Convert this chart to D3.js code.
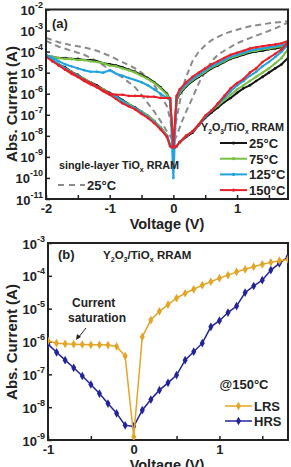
<!DOCTYPE html>
<html><head><meta charset="utf-8">
<script src="https://cdn.jsdelivr.net/npm/d3@7"></script>
<style>
body{margin:0;background:#fff}
svg{display:block}
text{font-family:"Liberation Sans",Arial,sans-serif;font-weight:bold;fill:#222}
</style>
</head><body><svg id="c" width="291" height="467"></svg>
<script>
// ---------------- Panel (a) data ----------------
const vPos = [0.05,0.1,0.2,0.3,0.4,0.5,0.6,0.7,0.8,0.9,1.0,1.1,1.2,1.3,1.4,1.5,1.6,1.7,1.8];
const vNeg = [-0.05,-0.1,-0.2,-0.3,-0.4,-0.5,-0.6,-0.7,-0.8,-0.9,-1.0,-1.1,-1.2,-1.3,-1.4,-1.5,-1.6,-1.7,-1.8,-1.9,-2.0];
const tempLabels = ["25°C","75°C","125°C","150°C"];

// HRS, positive sweep (along vPos)
const hrsPos25  = [3.2e-9,5.0e-9,8.9e-9,1.4e-8,3.2e-8,7.1e-8,1.3e-7,2.2e-7,4.0e-7,6.3e-7,1.1e-6,1.8e-6,2.5e-6,4.0e-6,6.3e-6,1.0e-5,1.6e-5,2.5e-5,5.0e-5];
const hrsPos75  = [3.2e-9,5.0e-9,1.0e-8,1.6e-8,3.5e-8,8.9e-8,1.6e-7,2.8e-7,5.0e-7,8.9e-7,1.6e-6,2.5e-6,4.0e-6,6.3e-6,1.0e-5,1.6e-5,2.8e-5,5.0e-5,1.3e-4];
const hrsPos125 = [3.2e-9,5.0e-9,1.0e-8,1.6e-8,3.5e-8,7.9e-8,1.6e-7,3.2e-7,6.3e-7,1.3e-6,2.5e-6,4.0e-6,7.1e-6,1.1e-5,2.0e-5,3.2e-5,5.6e-5,1.0e-4,2.2e-4];
const hrsPos150 = [3.2e-9,5.0e-9,1.0e-8,1.6e-8,3.5e-8,8.9e-8,1.6e-7,3.5e-7,7.9e-7,1.8e-6,3.2e-6,5.0e-6,1.0e-5,1.6e-5,3.2e-5,5.0e-5,7.9e-5,1.3e-4,2.8e-4];
// LRS, positive side (along vPos)
const lrsPos25  = [5.0e-7,1.0e-6,2.2e-6,4.0e-6,6.3e-6,1.0e-5,1.6e-5,2.2e-5,3.2e-5,4.5e-5,5.6e-5,7.1e-5,8.9e-5,1.0e-4,1.1e-4,1.3e-4,1.4e-4,1.6e-4,1.8e-4];
const lrsPos75  = [5.6e-7,1.1e-6,2.5e-6,4.5e-6,7.1e-6,1.1e-5,1.8e-5,2.5e-5,3.5e-5,5.0e-5,6.3e-5,7.9e-5,1.0e-4,1.1e-4,1.3e-4,1.4e-4,1.6e-4,1.8e-4,2.0e-4];
const lrsPos125 = [6.3e-7,1.3e-6,2.8e-6,5.0e-6,7.9e-6,1.3e-5,2.0e-5,2.8e-5,4.0e-5,5.6e-5,7.1e-5,8.9e-5,1.1e-4,1.3e-4,1.4e-4,1.6e-4,1.8e-4,2.0e-4,2.5e-4];
const lrsPos150 = [7.9e-7,1.6e-6,3.5e-6,6.3e-6,1.0e-5,1.6e-5,2.5e-5,3.5e-5,5.0e-5,7.1e-5,8.9e-5,1.1e-4,1.4e-4,1.6e-4,1.8e-4,2.0e-4,2.2e-4,2.5e-4,3.2e-4];
// LRS, negative side (along vNeg)
const lrsNeg25  = [5.0e-7,1.0e-6,2.0e-6,3.5e-6,5.6e-6,7.9e-6,1.1e-5,1.4e-5,1.8e-5,2.2e-5,2.5e-5,2.8e-5,3.5e-5,4.0e-5,4.0e-5,4.5e-5,4.5e-5,5.0e-5,5.0e-5,5.6e-5,6.3e-5];
const lrsNeg75  = [5.0e-7,8.9e-7,1.8e-6,3.2e-6,5.0e-6,7.1e-6,1.0e-5,1.3e-5,1.6e-5,2.0e-5,2.2e-5,2.8e-5,3.2e-5,3.5e-5,4.0e-5,4.0e-5,4.5e-5,4.5e-5,5.0e-5,5.6e-5,6.3e-5];
const lrsNeg125 = [5.0e-7,6.3e-7,1.0e-6,1.6e-6,2.5e-6,3.5e-6,4.5e-6,5.6e-6,7.1e-6,8.9e-6,1.3e-5,1.0e-5,1.1e-5,1.1e-5,1.3e-5,1.6e-5,2.0e-5,2.5e-5,3.5e-5,5.0e-5,7.1e-5];
const lrsNeg150 = [6.3e-7,6.3e-7,6.3e-7,7.1e-7,7.1e-7,7.9e-7,7.9e-7,7.9e-7,8.9e-7,8.9e-7,1.0e-6,1.4e-6,2.2e-6,3.2e-6,4.5e-6,6.3e-6,1.0e-5,1.4e-5,2.2e-5,3.5e-5,5.6e-5];
// HRS, negative side (along vNeg)
const hrsNeg25  = [3.5e-9,1.0e-8,2.5e-8,5.0e-8,8.9e-8,1.4e-7,2.2e-7,3.2e-7,5.0e-7,7.9e-7,1.1e-6,1.6e-6,2.5e-6,3.5e-6,5.0e-6,7.9e-6,1.1e-5,1.8e-5,2.5e-5,4.0e-5,6.3e-5];
const hrsNeg75  = [3.5e-9,1.0e-8,2.5e-8,5.0e-8,8.9e-8,1.4e-7,2.0e-7,3.2e-7,4.5e-7,7.1e-7,1.0e-6,1.6e-6,2.2e-6,3.5e-6,5.0e-6,7.1e-6,1.1e-5,1.6e-5,2.5e-5,4.0e-5,6.3e-5];
const hrsNeg125 = [3.2e-9,8.9e-9,2.2e-8,4.5e-8,7.9e-8,1.3e-7,2.0e-7,2.8e-7,4.5e-7,7.1e-7,1.0e-6,1.4e-6,2.2e-6,3.2e-6,4.5e-6,7.1e-6,1.0e-5,1.6e-5,2.5e-5,4.0e-5,7.1e-5];
const hrsNeg150 = [3.2e-9,8.9e-9,2.0e-8,4.0e-8,7.1e-8,1.1e-7,1.8e-7,2.5e-7,3.5e-7,5.6e-7,8.9e-7,1.3e-6,2.0e-6,2.8e-6,4.0e-6,6.3e-6,8.9e-6,1.4e-5,2.2e-5,3.5e-5,5.6e-5];
// current at V = 0 [after LRS sweep, after HRS sweep]
const zero25 = [2.5e-9,2.5e-9], zero75 = [2.2e-9,2.2e-9], zero125 = [1.0e-10,2.0e-9], zero150 = [2.8e-9,2.8e-9];

// single-layer TiOx, 25 °C (dashed)
const dashV = [-2.0,-1.8,-1.6,-1.4,-1.2,-1.0,-0.8,-0.6,-0.5,-0.4,-0.3,-0.2,-0.1,-0.05,0,0.05,0.1,0.15,0.2,0.3,0.4,0.5,0.6,0.7,0.8,1.0,1.2,1.4,1.6,1.8];
const singleOuter = [4.5e-4,2.8e-4,2.0e-4,1.6e-4,1.1e-4,6.3e-5,3.2e-5,1.6e-5,1.0e-5,5.6e-6,2.5e-6,8.9e-7,2.5e-7,6.3e-8,5.0e-9,6.3e-8,4.0e-7,2.0e-6,6.3e-6,3.5e-5,1.0e-4,2.0e-4,3.5e-4,5.0e-4,7.1e-4,1.1e-3,1.6e-3,2.0e-3,2.4e-3,2.8e-3];
const singleInner = [3.2e-4,1.7e-4,1.1e-4,7.1e-5,3.5e-5,1.4e-5,6.0e-6,2.0e-6,8.9e-7,3.5e-7,1.4e-7,5.0e-8,1.6e-8,1.0e-8,5.0e-9,1.0e-8,2.5e-8,6.3e-8,1.4e-7,6.3e-7,3.2e-6,1.1e-5,3.5e-5,7.1e-5,1.1e-4,2.5e-4,4.4e-4,7.4e-4,1.26e-3,2.4e-3];

const aXTicks = [-2,-1.5,-1,-0.5,0,0.5,1,1.5];
const aXLabels = [-2,-1,0,1];
const aYExp = [-11,-10,-9,-8,-7,-6,-5,-4,-3,-2];

// ---------------- Panel (b) data ----------------
const bV = [-1,-0.9,-0.8,-0.7,-0.6,-0.5,-0.4,-0.3,-0.2,-0.1,0,0.1,0.2,0.3,0.4,0.5,0.6,0.7,0.8,0.9,1.0,1.1,1.2,1.3,1.4,1.5,1.6,1.7,1.8];
const bLRS = [1.05e-6,8.9e-7,8.5e-7,8.3e-7,8.1e-7,7.9e-7,7.9e-7,7.8e-7,7.1e-7,3.6e-7,1.26e-9,1.38e-6,4.5e-6,8.3e-6,1.32e-5,2.1e-5,2.95e-5,3.9e-5,5.2e-5,6.6e-5,8.5e-5,1.05e-4,1.32e-4,1.58e-4,1.9e-4,2.24e-4,2.57e-4,2.9e-4,3.16e-4];
const bHRS = [8.3e-7,4.7e-7,2.7e-7,1.58e-7,8.9e-8,4.9e-8,2.6e-8,1.29e-8,6.5e-9,2.8e-9,2.6e-9,8.1e-9,1.7e-8,3.3e-8,5.5e-8,9.5e-8,2.7e-7,4.9e-7,8.9e-7,2.8e-6,4.3e-6,7.6e-6,1.2e-5,3.1e-5,4.9e-5,7.4e-5,1.5e-4,2.4e-4,3.8e-4];
const bXTicks = [-1,-0.5,0,0.5,1,1.5];
const bXLabels = [-1,0,1];
const bYExp = [-9,-8,-7,-6,-5,-4,-3];

// ---------------- drawing ----------------
const svg = d3.select("#c");
const FONT = 13;

function frameAxes(x, y, xTicks, xLabels, yExps, L, R, T, B, id) {
  const g = svg.append("g");
  const xa = d3.axisBottom(x).tickValues(xTicks).tickSize(-4).tickFormat(d => xLabels.includes(d) ? d3.format("d")(d) : "");
  const gx = g.append("g").attr("transform", `translate(0,${B})`).call(xa);
  gx.select(".domain").remove();
  gx.selectAll("line").attr("stroke", "#222").attr("stroke-width", 1.5);
  gx.selectAll("text").attr("font-size", FONT).attr("dy", "0.85em").attr("fill", "#222")
    .text(d => xLabels.includes(d) ? (d < 0 ? "-" + Math.abs(d) : String(d)) : "");
  const ya = d3.axisLeft(y).tickValues(yExps.map(e => Math.pow(10, e))).tickSize(-4).tickFormat(() => "");
  const gy = g.append("g").attr("transform", `translate(${L},0)`).call(ya);
  gy.select(".domain").remove();
  gy.selectAll("line").attr("stroke", "#222").attr("stroke-width", 1.5);
  gy.selectAll(".tick").each(function(d) {
    const e = Math.round(Math.log10(d));
    const t = d3.select(this).append("text").attr("x", -3).attr("y", 5).attr("text-anchor", "end").attr("fill", "#222");
    t.append("tspan").attr("font-size", FONT).text("10");
    t.append("tspan").attr("font-size", 9).attr("dy", -7).text(String(e));
  });
  g.append("rect").attr("x", L).attr("y", T).attr("width", R - L).attr("height", B - T)
    .attr("fill", "none").attr("stroke", "#222").attr("stroke-width", 2);
  svg.append("clipPath").attr("id", id).append("rect").attr("x", L).attr("y", T).attr("width", R - L).attr("height", B - T);
}

// ----- Panel (a) -----
const aL = 46, aR = 288, aT = 9.5, aB = 199;
const ax = d3.scaleLinear().domain([-2, 1.8]).range([aL, aR]);
const ay = d3.scaleLog().domain([1e-11, 1e-2]).range([aB, aT]);

const series = [
  {c:"#151515", hp:hrsPos25,  lp:lrsPos25,  ln:lrsNeg25,  hn:hrsNeg25,  z:zero25},
  {c:"#79c043", hp:hrsPos75,  lp:lrsPos75,  ln:lrsNeg75,  hn:hrsNeg75,  z:zero75},
  {c:"#1ea3df", hp:hrsPos125, lp:lrsPos125, ln:lrsNeg125, hn:hrsNeg125, z:zero125},
  {c:"#e8202a", hp:hrsPos150, lp:lrsPos150, ln:lrsNeg150, hn:hrsNeg150, z:zero150}
];
function loop(s) {
  const p = [[0, s.z[1]]];
  vPos.forEach((v, i) => p.push([v, s.hp[i]]));
  for (let i = vPos.length - 1; i >= 0; i--) p.push([vPos[i], s.lp[i]]);
  p.push([0, s.z[0]]);
  vNeg.forEach((v, i) => p.push([v, s.ln[i]]));
  for (let i = vNeg.length - 1; i >= 0; i--) p.push([vNeg[i], s.hn[i]]);
  p.push([0, s.z[1]]);
  return p;
}
const aLine = d3.line().x(d => ax(d[0])).y(d => ay(d[1]));
const aPlot = svg.append("g").attr("clip-path", "url(#clipA)");

frameAxes(ax, ay, aXTicks, aXLabels, aYExp, aL, aR, aT, aB, "clipA");

[singleOuter, singleInner].forEach(arr => {
  aPlot.append("path").attr("d", aLine(dashV.map((v, i) => [v, arr[i]])))
    .attr("fill", "none").attr("stroke", "#8a8a8a").attr("stroke-width", 2).attr("stroke-dasharray", "6,4");
});
series.forEach(s => {
  const pts = loop(s);
  aPlot.append("path").attr("d", aLine(pts)).attr("fill", "none").attr("stroke", s.c).attr("stroke-width", 2).attr("stroke-linejoin", "round");
  aPlot.selectAll(null).data(pts).enter().append("circle")
    .attr("cx", d => ax(d[0])).attr("cy", d => ay(d[1])).attr("r", 1.3).attr("fill", s.c);
});

svg.append("text").attr("x", 52).attr("y", 28).attr("font-size", 13).text("(a)");
svg.append("text").attr("x", 167).attr("y", 229).attr("text-anchor", "middle").attr("font-size", 14.5).text("Voltage (V)");
svg.append("text").attr("transform", "translate(17,104) rotate(-90)").attr("text-anchor", "middle").attr("font-size", 15).text("Abs. Current (A)");

function chem(x, y, size, anchor) {
  const t = svg.append("text").attr("x", x).attr("y", y).attr("font-size", size).attr("text-anchor", anchor || "start");
  t.append("tspan").text("Y");
  t.append("tspan").attr("font-size", size * 0.62).attr("dy", 3).text("2");
  t.append("tspan").attr("dy", -3).text("O");
  t.append("tspan").attr("font-size", size * 0.62).attr("dy", 3).text("3");
  t.append("tspan").attr("dy", -3).text("/TiO");
  t.append("tspan").attr("font-size", size * 0.62).attr("dy", 3).text("x");
  t.append("tspan").attr("dy", -3).text(" RRAM");
  return t;
}
chem(201, 131, 10.8);
series.forEach((s, i) => {
  const yy = 143 + i * 15.7;
  svg.append("line").attr("x1", 220).attr("x2", 247).attr("y1", yy).attr("y2", yy).attr("stroke", s.c).attr("stroke-width", 2);
  svg.append("circle").attr("cx", 233.5).attr("cy", yy).attr("r", 1.6).attr("fill", s.c);
  svg.append("text").attr("x", 249).attr("y", yy + 5).attr("font-size", 13).text(tempLabels[i]);
});
{
  const t = svg.append("text").attr("x", 59).attr("y", 169).attr("font-size", 10.8);
  t.append("tspan").text("single-layer TiO");
  t.append("tspan").attr("font-size", 7).attr("dy", 3).text("x");
  t.append("tspan").attr("dy", -3).text(" RRAM");
  svg.append("line").attr("x1", 58).attr("x2", 85).attr("y1", 185).attr("y2", 185)
    .attr("stroke", "#8a8a8a").attr("stroke-width", 2).attr("stroke-dasharray", "6,5");
  svg.append("text").attr("x", 87).attr("y", 190).attr("font-size", 13).text("25°C");
}

// ----- Panel (b) -----
const bL = 48, bR = 288, bT = 243, bB = 440;
const bx = d3.scaleLinear().domain([-1, 1.8]).range([bL, bR]);
const by = d3.scaleLog().domain([1e-9, 1e-3]).range([bB, bT]);
frameAxes(bx, by, bXTicks, bXLabels, bYExp, bL, bR, bT, bB, "clipB");
const bPlot = svg.append("g").attr("clip-path", "url(#clipB)");
const bLine = d3.line().x(d => bx(d[0])).y(d => by(d[1]));
const diamond = d3.symbol().type(d3.symbolDiamond).size(22);
[[bHRS, "#24249a"], [bLRS, "#e3a526"]].forEach(([arr, col]) => {
  const pts = bV.map((v, i) => [v, arr[i]]);
  bPlot.append("path").attr("d", bLine(pts)).attr("fill", "none").attr("stroke", col).attr("stroke-width", 1.5);
  bPlot.selectAll(null).data(pts).enter().append("path").attr("d", diamond)
    .attr("transform", d => `translate(${bx(d[0])},${by(d[1])})`).attr("fill", col);
});
svg.append("text").attr("x", 58).attr("y", 259).attr("font-size", 13).text("(b)");
chem(103, 259, 11.5);
svg.append("text").attr("x", 72).attr("y", 307).attr("font-size", 12).text("Current");
svg.append("text").attr("x", 68).attr("y", 322).attr("font-size", 12).text("saturation");
svg.append("line").attr("x1", 86).attr("y1", 328).attr("x2", 78).attr("y2", 338).attr("stroke", "#222").attr("stroke-width", 1);
svg.append("path").attr("d", "M76,340 L77,334 L81,337 Z").attr("fill", "#222");
svg.append("text").attr("x", 244).attr("y", 389).attr("text-anchor", "middle").attr("font-size", 13).text("@150°C");
[["LRS", "#e3a526", 406], ["HRS", "#24249a", 421]].forEach(([lab, col, yy]) => {
  svg.append("line").attr("x1", 225).attr("x2", 252).attr("y1", yy).attr("y2", yy).attr("stroke", col).attr("stroke-width", 1.5);
  svg.append("path").attr("d", diamond).attr("transform", `translate(238.5,${yy})`).attr("fill", col);
  svg.append("text").attr("x", 254).attr("y", yy + 5).attr("font-size", 13).text(lab);
});
svg.append("text").attr("x", 167).attr("y", 470).attr("text-anchor", "middle").attr("font-size", 14.5).text("Voltage (V)");
svg.append("text").attr("transform", "translate(17,342) rotate(-90)").attr("text-anchor", "middle").attr("font-size", 15).text("Abs. Current (A)");
</script></body></html>
